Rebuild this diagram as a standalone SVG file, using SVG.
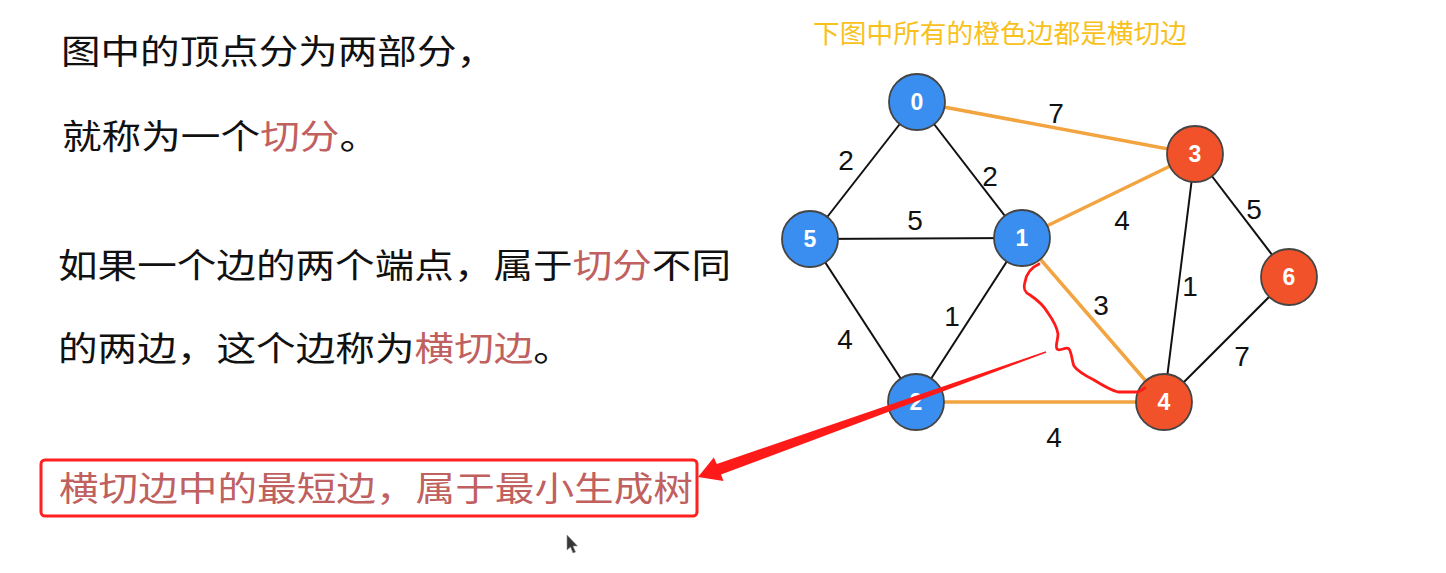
<svg xmlns="http://www.w3.org/2000/svg" width="1446" height="573" viewBox="0 0 1446 573">
<style>
.txt{font-family:"Noto Sans CJK SC","Noto Sans",sans-serif;font-size:34px;fill:#111}
.hl{fill:#C0605F}
.title{font-family:"Noto Sans CJK SC","Noto Sans",sans-serif;font-size:26px;fill:#F8C11C}
.e{stroke:#111;stroke-width:2;fill:none}
.o{stroke:#F2A440;stroke-width:3.5;fill:none}
.el{font-family:"Liberation Sans",Arial,sans-serif;font-size:28px;fill:#111;text-anchor:middle}
.nb{fill:#3A8EF0;stroke:#444;stroke-width:1.8}
.nr{fill:#F2522A;stroke:#444;stroke-width:1.8}
.nl{font-family:"Liberation Sans",Arial,sans-serif;font-size:23px;font-weight:bold;fill:#fff;text-anchor:middle}
</style>
<rect width="1446" height="573" fill="#fff"/>
<g id="texts">
<text class="txt" x="61" y="64" textLength="435" lengthAdjust="spacingAndGlyphs">图中的顶点分为两部分，</text>
<text class="txt" x="62" y="149" textLength="317" lengthAdjust="spacingAndGlyphs">就称为一个<tspan class="hl">切分</tspan>。</text>
<text class="txt" x="58" y="278" textLength="673" lengthAdjust="spacingAndGlyphs">如果一个边的两个端点，属于<tspan class="hl">切分</tspan>不同</text>
<text class="txt" x="58" y="361" textLength="515" lengthAdjust="spacingAndGlyphs">的两边，这个边称为<tspan class="hl">横切边</tspan>。</text>
<text class="title" x="813" y="43" textLength="374" lengthAdjust="spacingAndGlyphs">下图中所有的橙色边都是横切边</text>
</g>
<g id="note">
<rect x="41" y="460" width="656" height="56" rx="4" fill="none" stroke="#FF2020" stroke-width="3"/>
<text class="txt hl" x="59" y="501" textLength="634" lengthAdjust="spacingAndGlyphs">横切边中的最短边，属于最小生成树</text>
</g>
<g id="connectors">
<line class="e" x1="917" y1="102" x2="810" y2="239"/>
<line class="e" x1="917" y1="102" x2="1022" y2="238"/>
<line class="e" x1="810" y1="239" x2="1022" y2="238"/>
<line class="e" x1="810" y1="239" x2="916" y2="402"/>
<line class="e" x1="1022" y1="238" x2="916" y2="402"/>
<line class="e" x1="1195" y1="154" x2="1164" y2="402"/>
<line class="e" x1="1195" y1="154" x2="1289" y2="277"/>
<line class="e" x1="1164" y1="402" x2="1289" y2="277"/>
<line class="o" x1="917" y1="102" x2="1195" y2="154"/>
<line class="o" x1="1022" y1="238" x2="1195" y2="154"/>
<line class="o" x1="1022" y1="238" x2="1164" y2="402"/>
<line class="o" x1="916" y1="402" x2="1164" y2="402"/>
<text class="el" x="1056" y="123">7</text>
<text class="el" x="846" y="170">2</text>
<text class="el" x="990" y="186">2</text>
<text class="el" x="915" y="230">5</text>
<text class="el" x="845" y="349">4</text>
<text class="el" x="952" y="326">1</text>
<text class="el" x="1122" y="230">4</text>
<text class="el" x="1101" y="315">3</text>
<text class="el" x="1054" y="447">4</text>
<text class="el" x="1190" y="296">1</text>
<text class="el" x="1254" y="219">5</text>
<text class="el" x="1242" y="366">7</text>
</g>
<g id="node0"><circle class="nb" cx="917" cy="102" r="28"/><text class="nl" x="917" y="110">0</text></g>
<g id="node5"><circle class="nb" cx="810" cy="239" r="28"/><text class="nl" x="810" y="247">5</text></g>
<g id="node1"><circle class="nb" cx="1022" cy="238" r="28"/><text class="nl" x="1022" y="246">1</text></g>
<g id="node2"><circle class="nb" cx="916" cy="402" r="28"/><text class="nl" x="916" y="410">2</text></g>
<g id="node3"><circle class="nr" cx="1195" cy="154" r="28"/><text class="nl" x="1195" y="162">3</text></g>
<g id="node4"><circle class="nr" cx="1164" cy="402" r="28"/><text class="nl" x="1164" y="410">4</text></g>
<g id="node6"><circle class="nr" cx="1289" cy="277" r="28"/><text class="nl" x="1289" y="285">6</text></g>
<g id="annotation">
<path d="M1039,264 C1030,268 1026,276 1025,282 C1023,288 1024,292 1030,295 C1036,299 1044,306 1048,313 C1053,320 1057,328 1058,334 C1058,340 1055,346 1057,349 C1060,352 1066,346 1069,349 C1072,353 1072,362 1074,366 C1078,372 1086,376 1094,380 C1102,385 1110,390 1118,392 C1126,392 1134,392 1138,392 C1141,391 1143,389 1145,388" fill="none" stroke="#FF1A1A" stroke-width="2.8" stroke-linecap="round" stroke-linejoin="round"/>
<polygon points="698,477 723.5,481 721,474.5 1046.2,352.7 1045.8,351.3 716.8,464 713.8,457.5" fill="#FF1A1A"/>
</g>
<g id="cursor">
<polygon points="567,535 567,550 570.5,547 573,553 575.5,552 573,546 577.5,546" fill="#222" stroke="#888" stroke-width="0.6" opacity="0.9"/>
</g>
</svg>
